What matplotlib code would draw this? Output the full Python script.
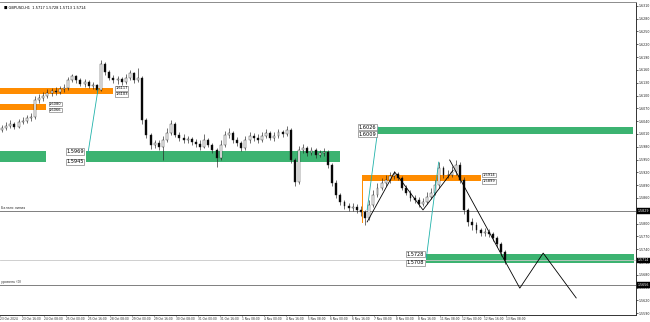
import matplotlib.pyplot as plt
from matplotlib.patches import Rectangle

# GBPUSD H1, drawn as 3-hour candles (x axis in trading hours)
first_open = 1.6019
highs = [1.6031, 1.6038, 1.6042, 1.6038, 1.6045, 1.6049, 1.6054, 1.6059, 1.6098, 1.6103,
         1.6108, 1.6115, 1.6117, 1.6119, 1.6122, 1.6126, 1.6143, 1.6150, 1.6148, 1.6141,
         1.6138, 1.6136, 1.6131, 1.6126, 1.6183, 1.6178, 1.6159, 1.6148, 1.6145, 1.6143,
         1.6150, 1.6159, 1.6155, 1.6164, 1.6145, 1.6047, 1.6012, 1.5995, 1.5995, 1.6005,
         1.6023, 1.6042, 1.6038, 1.6014, 1.6009, 1.6005, 1.6002, 1.5998, 1.5995, 1.6009,
         1.6000, 1.5988, 1.5977, 1.5995, 1.6016, 1.6023, 1.6016, 1.6002, 1.5993, 1.6005,
         1.6014, 1.6012, 1.6009, 1.6014, 1.6021, 1.6016, 1.6014, 1.6021, 1.6019, 1.6028,
         1.6023, 1.5953, 1.5981, 1.5986, 1.5981, 1.5979, 1.5977, 1.5972, 1.5977, 1.5972,
         1.5942, 1.5902, 1.5871, 1.5855, 1.5848, 1.5848, 1.5846, 1.5841, 1.5832, 1.5855,
         1.5878, 1.5895, 1.5906, 1.5914, 1.5921, 1.5923, 1.5921, 1.5911, 1.5890, 1.5878,
         1.5867, 1.5862, 1.5860, 1.5874, 1.5883, 1.5902, 1.5944, 1.5935, 1.5925, 1.5935,
         1.5949, 1.5944, 1.5909, 1.5836, 1.5813, 1.5804, 1.5789, 1.5789, 1.5787, 1.5780,
         1.5771, 1.5757, 1.5738]
lows = [1.6014, 1.6019, 1.6023, 1.6021, 1.6023, 1.6033, 1.6035, 1.6040, 1.6045, 1.6082,
        1.6087, 1.6094, 1.6098, 1.6101, 1.6103, 1.6108, 1.6112, 1.6131, 1.6129, 1.6122,
        1.6119, 1.6117, 1.6115, 1.6105, 1.6110, 1.6148, 1.6136, 1.6129, 1.6126, 1.6124,
        1.6126, 1.6136, 1.6129, 1.6131, 1.6033, 1.6000, 1.5974, 1.5977, 1.5972, 1.5949,
        1.5991, 1.6007, 1.6002, 1.5993, 1.5988, 1.5988, 1.5984, 1.5979, 1.5972, 1.5977,
        1.5979, 1.5965, 1.5932, 1.5949, 1.5979, 1.6000, 1.5988, 1.5981, 1.5970, 1.5972,
        1.5988, 1.5993, 1.5988, 1.5991, 1.6000, 1.5995, 1.5993, 1.6000, 1.6002, 1.6005,
        1.5942, 1.5888, 1.5892, 1.5965, 1.5958, 1.5960, 1.5953, 1.5956, 1.5958, 1.5930,
        1.5888, 1.5860, 1.5843, 1.5834, 1.5829, 1.5829, 1.5825, 1.5818, 1.5797, 1.5808,
        1.5839, 1.5862, 1.5878, 1.5888, 1.5895, 1.5904, 1.5902, 1.5878, 1.5867, 1.5853,
        1.5848, 1.5839, 1.5841, 1.5846, 1.5857, 1.5867, 1.5883, 1.5906, 1.5906, 1.5909,
        1.5914, 1.5895, 1.5822, 1.5794, 1.5785, 1.5778, 1.5771, 1.5771, 1.5768, 1.5759,
        1.5745, 1.5724, 1.5705]
closes = [1.6023, 1.6028, 1.6033, 1.6026, 1.6038, 1.6040, 1.6047, 1.6049, 1.6089, 1.6094,
          1.6098, 1.6105, 1.6110, 1.6108, 1.6115, 1.6117, 1.6136, 1.6145, 1.6136, 1.6126,
          1.6131, 1.6122, 1.6124, 1.6112, 1.6173, 1.6155, 1.6141, 1.6136, 1.6138, 1.6131,
          1.6141, 1.6152, 1.6136, 1.6141, 1.6042, 1.6007, 1.5984, 1.5988, 1.5979, 1.5995,
          1.6012, 1.6033, 1.6007, 1.6000, 1.5995, 1.5998, 1.5991, 1.5986, 1.5979, 1.5995,
          1.5984, 1.5972, 1.5953, 1.5984, 1.6007, 1.6012, 1.5995, 1.5988, 1.5977, 1.5995,
          1.6005, 1.6000, 1.5995, 1.6005, 1.6012, 1.6000, 1.6005, 1.6014, 1.6009, 1.6019,
          1.5949, 1.5897, 1.5972, 1.5977, 1.5965, 1.5972, 1.5960, 1.5965, 1.5967, 1.5937,
          1.5895, 1.5867, 1.5850, 1.5841, 1.5836, 1.5839, 1.5832, 1.5827, 1.5813, 1.5843,
          1.5867, 1.5883, 1.5895, 1.5902, 1.5911, 1.5916, 1.5906, 1.5883, 1.5871, 1.5860,
          1.5855, 1.5846, 1.5850, 1.5862, 1.5871, 1.5890, 1.5930, 1.5914, 1.5914, 1.5921,
          1.5937, 1.5902, 1.5832, 1.5804, 1.5797, 1.5785, 1.5778, 1.5780, 1.5775, 1.5766,
          1.5752, 1.5733, 1.5714]
BAR_HOURS = 3

time_labels = ["23 Oct 2024", "23 Oct 16:00", "24 Oct 08:00", "25 Oct 00:00", "25 Oct 16:00",
               "28 Oct 08:00", "29 Oct 00:00", "29 Oct 16:00", "30 Oct 08:00", "31 Oct 00:00",
               "31 Oct 16:00", "1 Nov 08:00", "4 Nov 00:00", "4 Nov 16:00", "5 Nov 08:00",
               "6 Nov 00:00", "6 Nov 16:00", "7 Nov 08:00", "8 Nov 00:00", "8 Nov 16:00",
               "11 Nov 08:00", "12 Nov 00:00", "12 Nov 16:00", "13 Nov 08:00"]
label_step_hours = 16
price_ticks = [1.6310 - 0.0030 * i for i in range(25)]

# zones: (start hour, end hour, top price, bottom price, colour, label side, label hour)
zones = [
    (0, 82, 1.6117, 1.6103, "orange", "right", 84),
    (0, 33.5, 1.6080, 1.6066, "orange", "right", 35.6),
    (0, 33.5, 1.5969, 1.5945, "green", None, None),
    (62.5, 247, 1.5969, 1.5945, "green", "left", 61),
    (275, 460, 1.6026, 1.6009, "green", "left", 273.5),
    (263, 350, 1.5914, 1.5899, "orange", "right", 351),
    (310, 461, 1.5728, 1.5708, "green", "left", 308.5),
]
zone_colors = {"orange": "#ff8c00", "green": "#3cb371"}

# trend lines (hour, price) pairs
teal_lines = [[(64, 1.5965), (71.3, 1.6115)],
              [(267, 1.5832), (275, 1.6026)],
              [(310, 1.5719), (319, 1.5944)]]
zigzag_a = [(267, 1.5804), (287, 1.5921), (307.6, 1.5832), (329.5, 1.5925)]
zigzag_b = [(327, 1.5949), (378, 1.5649), (395, 1.5731), (419, 1.5626)]
orange_mark = [(263, 1.5914), (263, 1.5804)]

level_lines = [(1.5829, "Баланс линия"), (1.5656, "уровень (0)")]
header = "■ GBPUSD,H1  1.5717 1.5728 1.5713 1.5714"

fig = plt.figure(figsize=(6.5, 3.22), dpi=100)
ax = fig.add_axes([0, 7 / 322, 636 / 650, 313 / 322])
ax.set_xlim(0, 462.5)
ax.set_ylim(1.5586, 1.6319)

# zones under everything
for x0, x1, top, bot, col, side, lx in zones:
    ax.add_patch(Rectangle((x0, bot), x1 - x0, top - bot, facecolor=zone_colors[col],
                           edgecolor="none", zorder=1))
    if side is None:
        continue
    fs = 3.6 if col == "green" else 2.6
    ha = "right" if side == "left" else "left"
    for p in (top, bot):
        ax.text(lx, p, f"{p:.4f}", fontsize=fs, ha=ha, va="center", color="black", zorder=6,
                bbox=dict(boxstyle="square,pad=0.12", fc="white", ec="#666666", lw=0.4))

# levels
for p, name in level_lines:
    ax.axhline(p, color="#7f7f7f", lw=0.7, zorder=2)
    ax.text(0.5, p + 0.0002, name, fontsize=2.4, ha="left", va="bottom", color="#333333")
ax.axhline(closes[-1], color="#c8c8c8", lw=0.6, zorder=2)

# candles
opens = [first_open] + closes[:-1]
xs = [BAR_HOURS * k + BAR_HOURS / 2 for k in range(len(closes))]
ax.vlines(xs, lows, highs, color="#222222", lw=0.45, zorder=3)
for x, o, c in zip(xs, opens, closes):
    fc = "white" if c >= o else "black"
    ax.bar(x, max(abs(c - o), 0.00006), bottom=min(o, c), width=1.4, facecolor=fc,
           edgecolor="#222222", lw=0.3, zorder=4)

# drawn lines
for seg in teal_lines:
    ax.plot(*zip(*seg), color="#20b2aa", lw=0.6, zorder=5)
ax.plot(*zip(*zigzag_a), color="black", lw=0.6, zorder=5)
ax.plot(*zip(*zigzag_b), color="black", lw=0.6, zorder=5)
ax.plot(*zip(*orange_mark), color="#ff8c00", lw=0.7, zorder=5)

# axes styling
ax.spines["left"].set_visible(False)
ax.spines["top"].set_color("#8c8c8c")
for s in ("right", "bottom"):
    ax.spines[s].set_color("#333333")
for s in ax.spines.values():
    s.set_linewidth(0.7)

ax.yaxis.tick_right()
ax.set_yticks(price_ticks)
ax.set_yticklabels([f"{p:.4f}" for p in price_ticks])
ax.tick_params(axis="y", labelsize=2.3, length=1.2, width=0.5, pad=0.5, colors="#222222")
ax.set_xticks([label_step_hours * i for i in range(len(time_labels))])
ax.set_xticklabels(time_labels, ha="left")
ax.tick_params(axis="x", labelsize=2.1, length=1.0, width=0.5, pad=0.4, colors="#222222")

# highlighted prices on the scale
for p in [level_lines[0][0], closes[-1], level_lines[1][0]]:
    ax.text(1.003, p, f"{p:.4f}", transform=ax.get_yaxis_transform(), fontsize=2.3,
            color="white", ha="left", va="center", zorder=7, clip_on=False,
            bbox=dict(boxstyle="square,pad=0.25", fc="black", ec="black", lw=0.3))

fig.text(0.006, 0.983, header, fontsize=2.6, va="top", ha="left", color="black")

plt.savefig("out.png", dpi=100)
